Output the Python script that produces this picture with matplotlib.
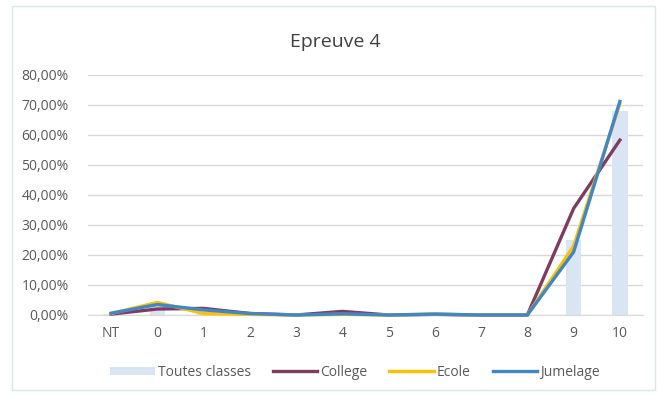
import matplotlib.pyplot as plt
import numpy as np
from matplotlib.ticker import FuncFormatter
from matplotlib.patches import Rectangle

categories = ['NT', '0', '1', '2', '3', '4', '5', '6', '7', '8', '9', '10']
toutes = [0.5, 3.0, 1.5, 0.5, 0.1, 0.7, 0.1, 0.3, 0.0, 0.0, 25.0, 68.0]
college = [0.3, 2.0, 2.2, 0.5, 0.0, 1.2, 0.0, 0.2, 0.0, 0.0, 35.5, 58.3]
ecole = [0.5, 4.2, 0.5, 0.2, 0.0, 0.2, 0.0, 0.3, 0.0, 0.0, 23.0, 70.5]
jumelage = [0.6, 3.5, 1.7, 0.5, 0.0, 0.4, 0.0, 0.3, 0.0, 0.0, 21.0, 71.2]

plt.rcParams['font.family'] = ['Open Sans', 'DejaVu Sans']

fig = plt.figure(figsize=(6.69, 3.96), dpi=100)
fig.patches.append(Rectangle((12 / 669, 6 / 396), 643 / 669, 384 / 396, transform=fig.transFigure,
                             fill=False, edgecolor='#dbe6e6', linewidth=1))
ax = fig.add_axes([88 / 669, 81 / 396, 555 / 669, 240 / 396])

x = np.arange(len(categories))
b = ax.bar(x, np.array(toutes) / 100, width=0.33, color='#dae5f3', label='Toutes classes', zorder=2)
l1, = ax.plot(x, np.array(college) / 100, color='#7f3b61', lw=2.4, label='College', zorder=3, clip_on=False)
l2, = ax.plot(x, np.array(ecole) / 100, color='#ffc000', lw=2.4, label='Ecole', zorder=4, clip_on=False)
l3, = ax.plot(x, np.array(jumelage) / 100, color='#3f87c7', lw=2.4, label='Jumelage', zorder=5, clip_on=False)

ax.set_xlim(-0.5, len(categories) - 0.5)
ax.set_ylim(0, 0.8)
ax.set_yticks(np.arange(0, 0.81, 0.1))
ax.yaxis.set_major_formatter(FuncFormatter(lambda v, p: ('%.2f%%' % (v * 100)).replace('.', ',')))
ax.set_xticks(x)
ax.set_xticklabels(categories)
ax.grid(axis='y', color='#d9d9d9', lw=1)
ax.set_axisbelow(True)
for s in ['top', 'right', 'left']:
    ax.spines[s].set_visible(False)
ax.spines['bottom'].set_color('#d9d9d9')
ax.tick_params(length=0, colors='#595959', labelsize=10)
ax.tick_params(axis='x', pad=8)
ax.tick_params(axis='y', pad=14)

fig.text(335 / 669, 1 - 42 / 396, 'Epreuve 4', ha='center', va='center', fontsize=14, color='#404040')
fig.legend([b, l1, l2, l3], ['Toutes classes', 'College', 'Ecole', 'Jumelage'],
           loc='center', bbox_to_anchor=(355 / 669, 1 - 372 / 396), ncol=4, frameon=False,
           fontsize=10, labelcolor='#595959', handlelength=3.2, handleheight=0.5,
           handletextpad=0.2, columnspacing=1.6)

fig.savefig('out.png', dpi=100)
